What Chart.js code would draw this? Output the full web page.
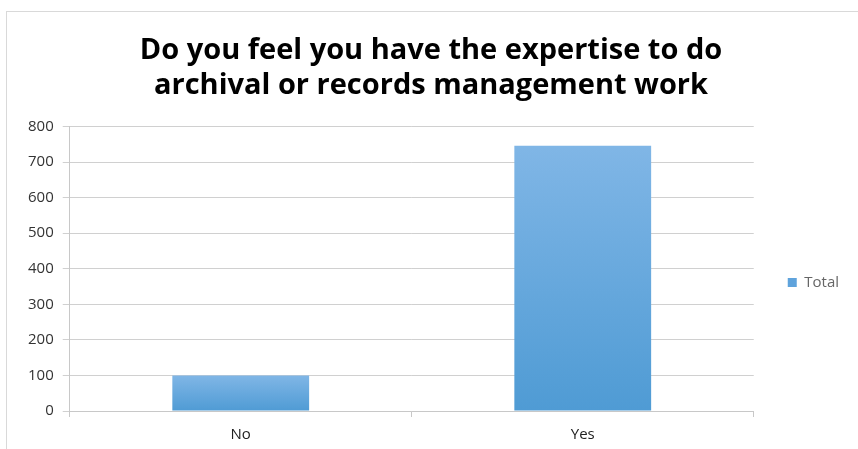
<!DOCTYPE html>
<html>
<head>
<meta charset="utf-8">
<script src="https://cdn.jsdelivr.net/npm/chart.js@4/dist/chart.umd.min.js"></script>
<style>
  html, body { margin: 0; padding: 0; background: #fff; overflow: hidden; }
  #wrap {
    position: absolute; left: 6px; top: 11px; width: 860px; height: 440px;
    border-left: 1px solid #d9d9d9; border-top: 1px solid #d9d9d9;
  }
  #box { position: absolute; left: 0; top: 0; width: 852px; height: 441px; }
</style>
</head>
<body>
<div id="wrap"><div id="box"><canvas id="myChart"></canvas></div></div>
<script>
const categories = ["No", "Yes"];
const totalValues = [100, 746];
const yTicks = [0, 100, 200, 300, 400, 500, 600, 700, 800];
const titleLines = ["Do you feel you have the expertise to do", "archival or records management work"];

initChart();

// each bar gets its own top-to-bottom gradient, like the Excel original
function barFill(context) {
  const chart = context.chart;
  const yScale = chart.scales && chart.scales.y;
  if (!chart.chartArea || !yScale || context.parsed === undefined) return "#5fa3dc";
  const top = yScale.getPixelForValue(context.parsed.y);
  const bottom = yScale.getPixelForValue(0);
  const g = chart.ctx.createLinearGradient(0, top, 0, bottom);
  g.addColorStop(0, "#80b6e6");
  g.addColorStop(1, "#4f9bd4");
  return g;
}

function initChart() {
  const ctx = document.getElementById("myChart").getContext("2d");
  window.chart = new Chart(ctx, {
    type: "bar",
    data: {
      labels: categories,
      datasets: [
        {
          label: "Total",
          backgroundColor: barFill,
          borderWidth: 0,
          data: totalValues,
          barPercentage: 0.4,
          categoryPercentage: 1.0,
        },
      ],
    },
    options: {
      responsive: true,
      maintainAspectRatio: false,
      animation: false,
      layout: { padding: { left: 6, right: 10, top: 14, bottom: 0 } },
      plugins: {
        title: {
          display: true,
          text: titleLines,
          color: "#000",
          font: { family: "Open Sans", size: 29, weight: "bold", lineHeight: 1.18 },
          padding: { top: 8, bottom: 24 },
        },
        legend: {
          position: "right",
          align: "start",
          // blank legend title used only as a spacer to push the entry down
          title: { display: true, text: " ", font: { size: 1, lineHeight: 1 }, padding: { top: 214, bottom: 0 } },
          labels: {
            color: "#222",
            font: { family: "Open Sans", size: 15 },
            boxWidth: 9,
            boxHeight: 9,
            padding: 34,
            generateLabels: () => [
              { text: "Total", fillStyle: "#5fa3dc", strokeStyle: "#5fa3dc", lineWidth: 0, hidden: false, datasetIndex: 0 },
            ],
          },
        },
        tooltip: { enabled: false },
      },
      scales: {
        x: {
          grid: { offset: true, drawOnChartArea: false, color: "#c8c8c8", tickLength: 6 },
          border: { color: "#c8c8c8" },
          ticks: { color: "#222", font: { family: "Open Sans", size: 15 }, padding: 9 },
        },
        y: {
          min: 0,
          max: 800,
          afterBuildTicks: (axis) => { axis.ticks = yTicks.map((v) => ({ value: v })); },
          afterFit: (axis) => { axis.width += 6; },
          grid: { color: "#d0d0d0", tickLength: 7 },
          border: { color: "#c8c8c8" },
          ticks: { color: "#333", font: { family: "Open Sans", size: 15 }, padding: 9 },
        },
      },
    },
  });
}
</script>
</body>
</html>
